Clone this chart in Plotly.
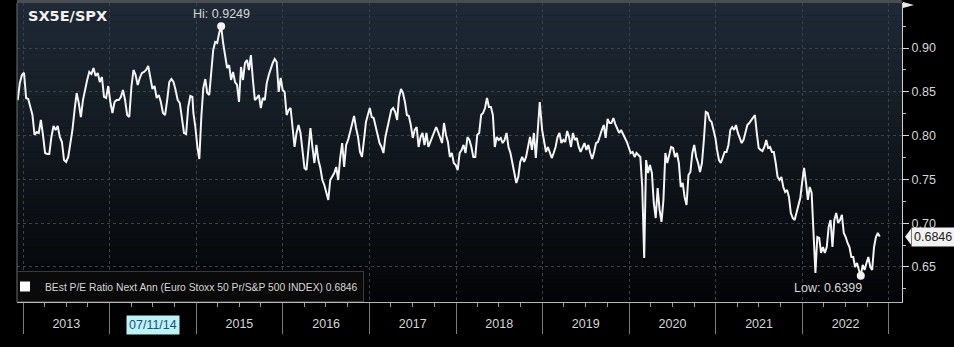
import pandas as pd
import plotly.graph_objects as go

TITLE = "SX5E/SPX"
SERIES_NAME = "BEst P/E Ratio Next Ann (Euro Stoxx 50 Pr/S&P 500 INDEX)"
LAST_VALUE = 0.6846

# Forward P/E ratio, Euro Stoxx 50 relative to S&P 500, in five consecutive stretches
vals_2013_2014 = [
    0.8406, 0.8600, 0.8692, 0.8718, 0.8429, 0.8418, 0.8327, 0.8235, 0.8007, 0.8041,
    0.8030, 0.8178, 0.8007, 0.7801, 0.7790, 0.7790, 0.7984, 0.8110, 0.8064, 0.8110,
    0.7984, 0.7927, 0.7721, 0.7699, 0.7756, 0.7915, 0.8064, 0.8292, 0.8486, 0.8372,
    0.8212, 0.8406, 0.8543, 0.8635, 0.8726, 0.8703, 0.8772, 0.8680, 0.8715, 0.8612,
    0.8669, 0.8441, 0.8429, 0.8566, 0.8384, 0.8258, 0.8384, 0.8406, 0.8406, 0.8441,
    0.8521, 0.8406, 0.8235, 0.8212, 0.8555, 0.8749, 0.8692, 0.8578, 0.8658, 0.8715,
    0.8726, 0.8749, 0.8795, 0.8635, 0.8532, 0.8566, 0.8429, 0.8464, 0.8384, 0.8258,
    0.8235, 0.8406, 0.8612, 0.8646, 0.8612, 0.8521, 0.8406, 0.8372, 0.8201, 0.8030,
    0.8018, 0.8327, 0.8452, 0.8441,
]
vals_2015_2016 = [
    0.8258, 0.8098, 0.7870, 0.7733, 0.8212, 0.8543, 0.8646, 0.8486, 0.8464, 0.8749,
    0.8977, 0.9069, 0.9057, 0.9171, 0.9249, 0.9057, 0.8886, 0.8772, 0.8806, 0.8635,
    0.8726, 0.8612, 0.8578, 0.8384, 0.8783, 0.8635, 0.8829, 0.8863, 0.8749, 0.8920,
    0.8635, 0.8406, 0.8429, 0.8464, 0.8315, 0.8429, 0.8406, 0.8600, 0.8692, 0.8772,
    0.8829, 0.8874, 0.8840, 0.8498, 0.8658, 0.8521, 0.8498, 0.8235, 0.8292, 0.8315,
    0.8087, 0.7870, 0.8030, 0.8121, 0.8030, 0.7801, 0.7630, 0.7607, 0.7870, 0.8087,
    0.7870, 0.7687, 0.7893, 0.7721, 0.7630, 0.7493, 0.7436, 0.7345, 0.7265, 0.7493,
    0.7527, 0.7573, 0.7642, 0.7493, 0.7744, 0.7915, 0.7642, 0.7893, 0.7950, 0.8041,
    0.8144, 0.8224, 0.8087, 0.7984, 0.7813, 0.7756, 0.7950, 0.8155,
]
vals_2017_2018 = [
    0.8315, 0.8212, 0.8201, 0.8098, 0.8030, 0.7915, 0.7870, 0.7801, 0.7984, 0.8087,
    0.8201, 0.8292, 0.8315, 0.8270, 0.8178, 0.8441, 0.8532, 0.8486, 0.8384, 0.8235,
    0.8224, 0.8121, 0.7973, 0.8064, 0.8098, 0.7870, 0.7984, 0.8030, 0.7893, 0.8030,
    0.7870, 0.7927, 0.7973, 0.8030, 0.8098, 0.8041, 0.7973, 0.7915, 0.8144, 0.8007,
    0.7927, 0.7756, 0.7801, 0.7687, 0.7664, 0.7607, 0.7801, 0.7836, 0.7893, 0.7801,
    0.7984, 0.7950, 0.7870, 0.7756, 0.7756, 0.8007, 0.8030, 0.8235, 0.8258, 0.8315,
    0.8429, 0.8327, 0.8327, 0.8235, 0.7870, 0.7984, 0.7950, 0.7973, 0.7915, 0.7950,
    0.8030, 0.7870, 0.7801, 0.7687, 0.7607, 0.7459, 0.7527, 0.7699, 0.7756, 0.7699,
    0.7756, 0.7870, 0.7984, 0.7836, 0.8030, 0.7744, 0.8041, 0.8384,
]
vals_2019_2020 = [
    0.8064, 0.7915, 0.7813, 0.7870, 0.7801, 0.7744, 0.7801, 0.7870, 0.7984, 0.8030,
    0.7915, 0.7950, 0.7927, 0.8053, 0.7984, 0.7870, 0.8030, 0.7950, 0.7973, 0.7870,
    0.7813, 0.7870, 0.7915, 0.7836, 0.7893, 0.7801, 0.7733, 0.7813, 0.7915, 0.7927,
    0.8007, 0.8064, 0.8121, 0.7973, 0.8190, 0.8144, 0.8144, 0.8201, 0.8132, 0.8087,
    0.8030, 0.8064, 0.8007, 0.7973, 0.7927, 0.7870, 0.7801, 0.7813, 0.7756, 0.7801,
    0.7779, 0.7756, 0.7413, 0.6603, 0.7721, 0.7573, 0.7664, 0.7573, 0.7231, 0.7059,
    0.7402, 0.7151, 0.7014, 0.7265, 0.7801, 0.7687, 0.7779, 0.7870, 0.7858, 0.7756,
    0.7801, 0.7687, 0.7413, 0.7459, 0.7299, 0.7208, 0.7550, 0.7584, 0.7801, 0.7893,
    0.7756, 0.7687, 0.7584, 0.7687, 0.7950, 0.8270, 0.8258, 0.8178, 0.8155, 0.8064,
    0.7973,
]
vals_2021_2022 = [
    0.7836, 0.7721, 0.7687, 0.7756, 0.7813, 0.7813, 0.7893, 0.8064, 0.8098, 0.8064,
    0.8121, 0.8030, 0.7973, 0.7915, 0.7950, 0.8030, 0.8121, 0.8144, 0.8178, 0.8212,
    0.8235, 0.8030, 0.7858, 0.7836, 0.7824, 0.7870, 0.7950, 0.7858, 0.7870, 0.7813,
    0.7813, 0.7687, 0.7527, 0.7493, 0.7527, 0.7413, 0.7356, 0.7379, 0.7299, 0.7116,
    0.7059, 0.7036, 0.7116, 0.7208, 0.7288, 0.7470, 0.7630, 0.7470, 0.7265, 0.7413,
    0.7345, 0.6888, 0.6432, 0.6842, 0.6831, 0.6660, 0.6728, 0.6660, 0.6728, 0.6957,
    0.7036, 0.6728, 0.7036, 0.7116, 0.7002, 0.7036, 0.7094, 0.6888, 0.6842, 0.6774,
    0.6728, 0.6614, 0.6614, 0.6500, 0.6546, 0.6466, 0.6399, 0.6523, 0.6466, 0.6546,
    0.6614, 0.6500, 0.6466, 0.6728, 0.6842, 0.6888, 0.6846,
]

segments = [
    ("2012-12-09", "2014-12-16", vals_2013_2014),
    ("2014-12-20", "2016-12-17", vals_2015_2016),
    ("2017-01-02", "2018-12-20", vals_2017_2018),
    ("2018-12-30", "2020-12-30", vals_2019_2020),
    ("2021-01-06", "2022-11-23", vals_2021_2022),
]

# Labels shown in the band under the plot, centred on each calendar year
year_label_dates = ["2013-07-02", "2014-07-02", "2015-07-02", "2016-07-02", "2017-07-02",
                    "2018-07-02", "2019-07-02", "2020-07-02", "2021-07-02", "2022-07-02"]
year_labels = ["2013", "", "2015", "2016", "2017", "2018", "2019", "2020", "2021", "2022"]
cursor_label = "07/11/14"
cursor_label_date = "2014-07-02"

y_ticks = [0.65, 0.70, 0.75, 0.80, 0.85, 0.90]

dates, values = [], []
for start, end, vals in segments:
    dates.extend(pd.date_range(start, end, periods=len(vals)))
    values.extend(vals)

i_hi = max(range(len(values)), key=lambda i: values[i])
i_lo = min(range(len(values)), key=lambda i: values[i])

TXT = "#d6d6d6"
FONT = "Liberation Sans"

fig = go.Figure()

fig.add_trace(go.Scatter(
    x=dates, y=values, mode="lines",
    line=dict(color="#f4f4f4", width=2),
    showlegend=False, hoverinfo="skip",
))
fig.add_trace(go.Scatter(
    x=[dates[i_hi], dates[i_lo]], y=[values[i_hi], values[i_lo]], mode="markers",
    marker=dict(color="#f4f4f4", size=8),
    showlegend=False, hoverinfo="skip",
))
# legend entry with a square swatch
fig.add_trace(go.Scatter(
    x=[None], y=[None], mode="markers", xaxis="x2",
    marker=dict(symbol="square", color="#ffffff", size=10),
    name=f"{SERIES_NAME} {LAST_VALUE:.4f}",
))

# vertical gradient behind the plot area
shapes = []
n_bands = 48
top_rgb = (31, 42, 54)
bot_rgb = (3, 4, 6)
for i in range(n_bands):
    t = (i + 0.5) / n_bands
    c = tuple(round(b + (tp - b) * t) for b, tp in zip(bot_rgb, top_rgb))
    shapes.append(dict(
        type="rect", xref="paper", yref="paper", x0=0, x1=1,
        y0=i / n_bands, y1=(i + 1) / n_bands + 0.001,
        fillcolor=f"rgb{c}", line=dict(width=0), layer="below",
    ))
# top frame bar and left edge
shapes.append(dict(type="rect", xref="paper", yref="paper", x0=0, x1=1, y0=1, y1=1.012,
                   fillcolor="#4a4e52", line=dict(width=0)))
shapes.append(dict(type="line", xref="paper", yref="paper", x0=0, x1=0, y0=0, y1=1,
                   line=dict(color="#6a6e72", width=1)))
# pointer for the last-value tag
shapes.append(dict(type="path", xref="paper", yref="y", xsizemode="pixel", ysizemode="pixel",
                   xanchor=1, yanchor=LAST_VALUE, path="M 3 0 L 9 8 L 9 -8 Z",
                   fillcolor="#f2f2f2", line=dict(width=0)))
# flag at the top of the value axis
shapes.append(dict(type="path", xref="paper", yref="paper", xsizemode="pixel", ysizemode="pixel",
                   xanchor=1, yanchor=1, path="M 1 1 L 1 -5 L 12 -2 Z",
                   fillcolor="#e8e8e8", line=dict(width=0)))

annotations = [
    dict(text=f"<b>{TITLE}</b>", xref="paper", yref="paper", x=0, y=1, xshift=9, yshift=-3,
         xanchor="left", yanchor="top", showarrow=False,
         font=dict(family="DejaVu Sans", size=14.5, color="#f2f2f2")),
    dict(text=f"Hi: {values[i_hi]:.4f}", x=dates[i_hi], y=values[i_hi], xref="x", yref="y",
         xanchor="center", yanchor="bottom", yshift=3, showarrow=False,
         font=dict(family=FONT, size=12.5, color=TXT)),
    dict(text=f"Low: {values[i_lo]:.4f}", x=dates[i_lo], y=values[i_lo], xref="x", yref="y",
         xanchor="right", yanchor="top", xshift=3, yshift=-3, showarrow=False,
         font=dict(family=FONT, size=12.5, color=TXT)),
    dict(text=f"{LAST_VALUE:.4f}", xref="paper", yref="y", x=1, y=LAST_VALUE, xshift=9,
         xanchor="left", yanchor="middle", showarrow=False, bgcolor="#f2f2f2", borderpad=2,
         font=dict(family=FONT, size=12.5, color="#202020")),
    dict(text=cursor_label, xref="x", yref="paper", x=cursor_label_date, y=0, yshift=-23,
         xanchor="center", yanchor="middle", showarrow=False, bgcolor="#bdf2f6", borderpad=2,
         font=dict(family=FONT, size=12.5, color="#1f4f7a")),
]

x_range = ["2012-12-06", "2023-02-25"]

fig.update_layout(
    width=954, height=347,
    margin=dict(l=17, r=52, t=3, b=45),
    paper_bgcolor="#000000",
    plot_bgcolor="#030406",
    font=dict(family=FONT, color=TXT),
    shapes=shapes,
    annotations=annotations,
    showlegend=True,
    legend=dict(
        x=0, y=0, xanchor="left", yanchor="bottom",
        bgcolor="#0a0a0a", bordercolor="#3a3a3a", borderwidth=1,
        font=dict(family=FONT, size=10.3, color=TXT),
        itemwidth=30, tracegroupgap=0, indentation=-13,
    ),
    xaxis=dict(
        type="date", range=x_range,
        tick0="2013-01-01", dtick="M12",
        showticklabels=False,
        ticks="outside", ticklen=31, tickcolor="#7c7c7c", tickwidth=1,
        showgrid=True, gridcolor="#3b4147", griddash="dot", gridwidth=1,
        showline=True, linecolor="#b8b8b8", linewidth=1,
        zeroline=False,
        minor=dict(tick0="2013-01-01", dtick="M3", ticks="outside", ticklen=4,
                   tickcolor="#9a9a9a", showgrid=False),
    ),
    xaxis2=dict(
        type="date", matches="x", overlaying="x", anchor="y", side="bottom",
        tickmode="array", tickvals=year_label_dates, ticktext=year_labels,
        ticks="", showgrid=False, showline=False, zeroline=False,
        tickfont=dict(family=FONT, size=12.5, color=TXT),
        ticklabelstandoff=12,
    ),
    yaxis=dict(
        side="right", range=[0.6100, 0.9514],
        tickmode="array", tickvals=y_ticks, ticktext=[f"{v:.2f}" for v in y_ticks],
        ticks="outside", ticklen=6, tickcolor="#d8d8d8", tickwidth=1,
        tickfont=dict(family=FONT, size=12.5, color=TXT),
        showgrid=True, gridcolor="#3b4147", griddash="dot", gridwidth=1,
        showline=True, linecolor="#d0d0d0", linewidth=1,
        zeroline=False,
        minor=dict(tick0=0.625, dtick=0.05, ticks="outside", ticklen=3,
                   tickcolor="#bdbdbd", showgrid=False),
    ),
)

fig.write_html("out.html")
